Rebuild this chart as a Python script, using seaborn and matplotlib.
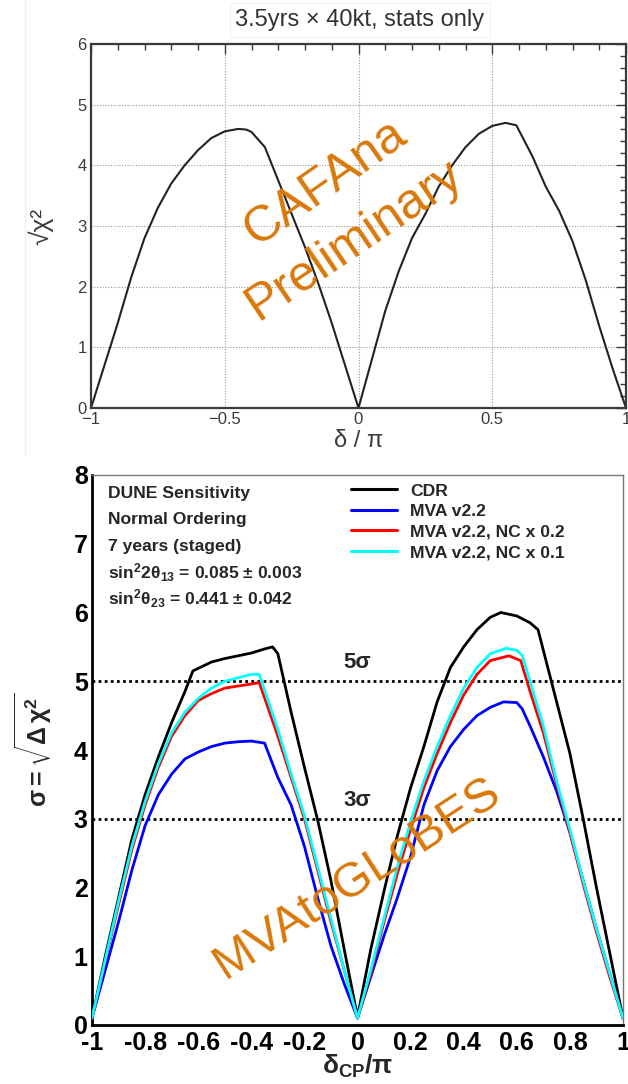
import numpy as np
import pandas as pd
import matplotlib
matplotlib.use("Agg")
import matplotlib.pyplot as plt
from matplotlib.ticker import MultipleLocator, FuncFormatter
from matplotlib.lines import Line2D
import seaborn as sns

# ---- top panel: CAFAna, 3.5yrs x 40kt, stats only ----
cafana_delta = [-1.0, -0.95, -0.9, -0.85, -0.8, -0.75, -0.7, -0.65, -0.6, -0.55, -0.5, -0.45,
                -0.42, -0.4, -0.35, -0.3, -0.25, -0.2, -0.15, -0.1, -0.05, 0.0,
                0.05, 0.1, 0.15, 0.2, 0.25, 0.3, 0.35, 0.4, 0.45, 0.5, 0.55, 0.59,
                0.65, 0.7, 0.75, 0.8, 0.85, 0.9, 0.95, 1.0]
cafana_sqrtchi2 = [0.0, 0.7, 1.4, 2.15, 2.8, 3.3, 3.7, 4.0, 4.25, 4.45, 4.56, 4.6,
                   4.59, 4.55, 4.3, 3.75, 3.2, 2.65, 2.05, 1.4, 0.7, 0.0,
                   0.8, 1.6, 2.25, 2.8, 3.2, 3.65, 4.0, 4.3, 4.52, 4.65, 4.7, 4.66,
                   4.15, 3.65, 3.25, 2.75, 2.1, 1.35, 0.65, 0.0]

# ---- bottom panel: MVAtoGLoBES, 7 years staged ----
cdr_delta = [-1.0, -0.95, -0.9, -0.85, -0.8, -0.75, -0.7, -0.65, -0.62, -0.55, -0.5, -0.45,
             -0.4, -0.35, -0.32, -0.3, -0.25, -0.2, -0.15, -0.1, -0.05, 0.0,
             0.05, 0.1, 0.15, 0.2, 0.25, 0.3, 0.35, 0.4, 0.45, 0.5, 0.54, 0.6, 0.65,
             0.68, 0.75, 0.8, 0.85, 0.9, 0.95, 1.0]
cdr_sigma = [0.1, 1.0, 1.85, 2.7, 3.35, 3.9, 4.4, 4.85, 5.15, 5.28, 5.33, 5.37,
             5.41, 5.47, 5.5, 5.4, 4.55, 3.75, 2.98, 2.1, 1.1, 0.12,
             1.1, 1.95, 2.75, 3.45, 4.05, 4.7, 5.2, 5.5, 5.75, 5.93, 6.0, 5.95, 5.85,
             5.75, 4.7, 3.95, 3.0, 2.0, 1.05, 0.1]

mva_delta = [-1.0, -0.95, -0.9, -0.85, -0.8, -0.75, -0.7, -0.65, -0.6, -0.55, -0.5, -0.45,
             -0.4, -0.35, -0.3, -0.25, -0.2, -0.15, -0.1, -0.05, 0.0,
             0.05, 0.1, 0.15, 0.2, 0.25, 0.3, 0.35, 0.4, 0.45, 0.5, 0.55, 0.6, 0.62,
             0.65, 0.7, 0.75, 0.8, 0.85, 0.9, 0.95, 1.0]
mva_sigma = [0.1, 0.8, 1.5, 2.25, 2.9, 3.35, 3.65, 3.87, 3.97, 4.05, 4.1, 4.12,
             4.13, 4.1, 3.6, 3.2, 2.6, 1.85, 1.15, 0.6, 0.1,
             0.7, 1.3, 1.85, 2.45, 3.2, 3.7, 4.05, 4.3, 4.5, 4.62, 4.7, 4.69, 4.6,
             4.35, 3.9, 3.4, 2.8, 2.1, 1.4, 0.75, 0.1]

nc02_delta = [-1.0, -0.95, -0.9, -0.85, -0.8, -0.75, -0.7, -0.65, -0.6, -0.55, -0.5, -0.45,
              -0.4, -0.37, -0.3, -0.25, -0.2, -0.15, -0.1, -0.05, 0.0,
              0.05, 0.1, 0.15, 0.2, 0.25, 0.3, 0.35, 0.4, 0.45, 0.5, 0.57, 0.615,
              0.65, 0.7, 0.75, 0.8, 0.85, 0.9, 0.95, 1.0]
nc02_sigma = [0.1, 0.93, 1.75, 2.55, 3.2, 3.75, 4.2, 4.5, 4.72, 4.82, 4.9, 4.93,
              4.96, 4.98, 4.2, 3.6, 3.0, 2.25, 1.5, 0.8, 0.1,
              0.75, 1.5, 2.2, 2.85, 3.45, 3.95, 4.4, 4.8, 5.1, 5.3, 5.37, 5.3,
              4.85, 4.25, 3.5, 2.8, 2.05, 1.35, 0.7, 0.1]

nc01_delta = [-1.0, -0.95, -0.9, -0.85, -0.8, -0.75, -0.7, -0.65, -0.6, -0.55, -0.5, -0.45,
              -0.4, -0.37, -0.3, -0.25, -0.2, -0.15, -0.1, -0.05, 0.0,
              0.05, 0.1, 0.15, 0.2, 0.25, 0.3, 0.35, 0.4, 0.45, 0.5, 0.56, 0.6, 0.62,
              0.65, 0.7, 0.75, 0.8, 0.85, 0.9, 0.95, 1.0]
nc01_sigma = [0.1, 0.95, 1.8, 2.6, 3.25, 3.8, 4.25, 4.55, 4.75, 4.9, 5.0, 5.05,
              5.1, 5.1, 4.3, 3.65, 3.05, 2.3, 1.55, 0.8, 0.1,
              0.8, 1.55, 2.3, 2.95, 3.55, 4.05, 4.5, 4.9, 5.2, 5.4, 5.48, 5.45, 5.38,
              5.0, 4.35, 3.55, 2.85, 2.1, 1.4, 0.75, 0.1]

curve_names = ["CDR", "MVA v2.2", "MVA v2.2, NC x 0.2", "MVA v2.2, NC x 0.1"]
curve_colors = ["#000000", "#0000ff", "#ff0000", "#00ffff"]

info_lines = ["DUNE Sensitivity", "Normal Ordering", "7 years (staged)",
              r"sin$^{\mathbf{2}}$2$\mathbf{\theta}_{\mathbf{13}}$ = 0.085 ± 0.003",
              r"sin$^{\mathbf{2}}$$\mathbf{\theta}_{\mathbf{23}}$ = 0.441 ± 0.042"]

sns.set_theme(style="white")
plt.rcParams["font.family"] = ["Liberation Sans", "DejaVu Sans"]
plt.rcParams["mathtext.fontset"] = "custom"
plt.rcParams["mathtext.rm"] = "Liberation Sans"
plt.rcParams["mathtext.it"] = "Liberation Sans:italic"
plt.rcParams["mathtext.bf"] = "Liberation Sans:bold"
plt.rcParams["mathtext.sf"] = "Liberation Sans"

W, H = 628, 1084
fig = plt.figure(figsize=(W / 100, H / 100), dpi=100)
fig.patch.set_facecolor("white")

orange = "#d9780a"
grey = "#3a3a3a"

# faint edge of the pasted upper plot
fig.add_artist(Line2D([25 / W, 25 / W], [1 - 455 / H, 1.0], color="#eeeeee", lw=1))

# ---------------- top panel ----------------
ax1 = fig.add_axes([91 / W, 1 - 408 / H, 535 / W, 364 / H])
sns.lineplot(x=cafana_delta, y=cafana_sqrtchi2, ax=ax1, color="#222222", lw=1.5,
             sort=False, estimator=None)
ax1.set_xlim(-1, 1)
ax1.set_ylim(0, 6)
ax1.xaxis.set_major_locator(MultipleLocator(0.5))
ax1.xaxis.set_minor_locator(MultipleLocator(0.1))
ax1.yaxis.set_major_locator(MultipleLocator(1))
ax1.yaxis.set_minor_locator(MultipleLocator(0.2))
ax1.xaxis.set_major_formatter(FuncFormatter(
    lambda v, _: "0" if abs(v) < 1e-9 else f"{v:g}".replace("-", "\u2212")))
ax1.grid(True, which="major", ls=(0, (1, 1.5)), color="#9a9a9a", lw=0.8)
ax1.tick_params(which="both", direction="in", top=True, right=True, colors=grey,
                labelsize=12, labelcolor=grey)
ax1.tick_params(which="major", length=7, width=1)
ax1.tick_params(which="minor", length=4, width=1)
ax1.tick_params(axis="x", pad=3)
ax1.tick_params(axis="y", pad=3)
for s in ax1.spines.values():
    s.set_color(grey)
    s.set_linewidth(1.6)
ax1.set_xlabel("δ / π", fontsize=17, color=grey)
ax1.set_ylabel("√χ²", fontsize=19, color=grey)
ax1.xaxis.set_label_coords(0.5, -0.06)
ax1.yaxis.set_label_coords(-0.07, 0.5)
ax1.text(-0.125, 3.71, "CAFAna", color=orange, fontsize=36, rotation=35,
         ha="center", va="center", rotation_mode="anchor", zorder=5)
ax1.text(-0.013, 2.77, "Preliminary", color=orange, fontsize=36, rotation=34,
         ha="center", va="center", rotation_mode="anchor", zorder=5)

fig.text(360 / W, 1 - 20 / H, "3.5yrs × 40kt, stats only", ha="center", va="center",
         fontsize=17, color="#333333",
         bbox=dict(boxstyle="square,pad=0.25", fc="white", ec="#f0f0f0", lw=0.8))

# ---------------- bottom panel ----------------
frames = []
for name, dx, sy in zip(curve_names,
                        [cdr_delta, mva_delta, nc02_delta, nc01_delta],
                        [cdr_sigma, mva_sigma, nc02_sigma, nc01_sigma]):
    frames.append(pd.DataFrame({"delta": dx, "sigma": sy, "curve": name}))
df = pd.concat(frames, ignore_index=True)

ax2 = fig.add_axes([92 / W, 1 - 1025 / H, 531 / W, 550 / H])
ax2.axhline(5, ls=(0, (1, 1.2)), color="black", lw=2, zorder=1)
ax2.axhline(3, ls=(0, (1, 1.2)), color="black", lw=2, zorder=1)
sns.lineplot(data=df, x="delta", y="sigma", hue="curve", hue_order=curve_names,
             palette=dict(zip(curve_names, curve_colors)), ax=ax2, lw=2,
             sort=False, estimator=None, zorder=3)
ax2.set_xlim(-1, 1)
ax2.set_ylim(0, 8)
ax2.xaxis.set_major_locator(MultipleLocator(0.2))
ax2.xaxis.set_minor_locator(MultipleLocator(0.05))
ax2.yaxis.set_major_locator(MultipleLocator(1))
ax2.yaxis.set_minor_locator(MultipleLocator(0.2))
ax2.xaxis.set_major_formatter(FuncFormatter(
    lambda v, _: "0" if abs(v) < 1e-9 else f"{round(v, 1):g}"))
ax2.yaxis.set_major_formatter(FuncFormatter(lambda v, _: f"{int(round(v))}"))
ax2.tick_params(which="both", direction="in", top=False, right=False, colors="black",
                labelsize=18)
ax2.tick_params(which="major", length=10, width=1.6)
ax2.tick_params(which="minor", length=5.5, width=1.6)
ax2.tick_params(axis="x", pad=4)
ax2.tick_params(axis="y", pad=3)
for lab in ax2.get_xticklabels() + ax2.get_yticklabels():
    lab.set_fontweight("bold")
for side in ["left", "bottom"]:
    ax2.spines[side].set_color("black")
    ax2.spines[side].set_linewidth(2)
for side in ["top", "right"]:
    ax2.spines[side].set_color("#777777")
    ax2.spines[side].set_linewidth(1)

ax2.set_xlabel(r"$\mathbf{\delta_{CP}}$/π", fontsize=19, fontweight="bold")
ax2.xaxis.set_label_coords(0.5, -0.05)
ax2.set_ylabel(r"$\mathbf{\sigma = \sqrt{\Delta\,\chi^2}}$", fontsize=18)
ax2.yaxis.set_label_coords(-0.07, 0.5)

ax2.text(0.0, 5.27, "5σ", fontsize=16, fontweight="bold", ha="center", va="center")
ax2.text(0.0, 3.27, "3σ", fontsize=16, fontweight="bold", ha="center", va="center")

for yv, line in zip([7.73, 7.35, 6.96, 6.58, 6.2], info_lines):
    ax2.text(-0.94, yv, line, fontsize=12.6, fontweight="bold", ha="left", va="center")

leg = ax2.legend(loc="upper left", bbox_to_anchor=(-0.023, 7.88),
                 bbox_transform=ax2.transData, frameon=False, fontsize=12.6,
                 handlelength=2.6, handletextpad=0.75, labelspacing=0.3,
                 borderpad=0, borderaxespad=0)
for t in leg.get_texts():
    t.set_fontweight("bold")
for l in leg.get_lines():
    l.set_linewidth(2.2)

ax2.text(0.0, 2.14, "MVAtoGLoBES", color=orange, fontsize=35, rotation=33,
         ha="center", va="center", rotation_mode="anchor", zorder=5)

fig.savefig("out.png", dpi=100)
